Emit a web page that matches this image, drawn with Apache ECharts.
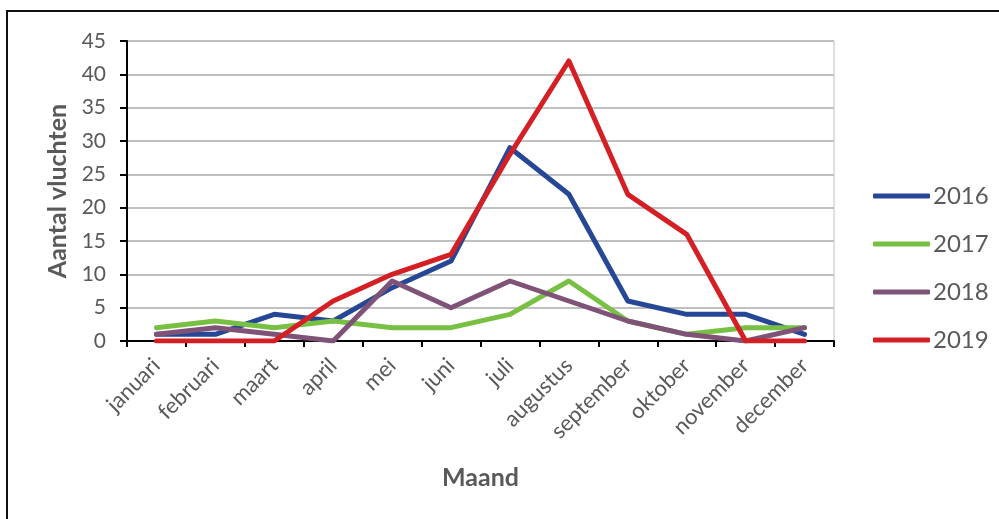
<!DOCTYPE html>
<html>
<head>
<meta charset="utf-8">
<script src="https://cdn.jsdelivr.net/npm/echarts@6/dist/echarts.min.js"></script>
<style>
  html, body { margin: 0; padding: 0; background: #fff; overflow: hidden; }
  #frame { position: absolute; left: 6px; top: 10px; width: 1010px; height: 530px; border: 2px solid #111; box-sizing: border-box; }
  #chart { position: absolute; left: 0; top: 0; width: 999px; height: 519px; }
</style>
</head>
<body>
<div id="frame"></div>
<div id="chart"></div>
<script>
// Maandelijkse aantallen vluchten per jaar
const months = ['januari', 'februari', 'maart', 'april', 'mei', 'juni', 'juli', 'augustus', 'september', 'oktober', 'november', 'december'];
const years = ['2016', '2017', '2018', '2019'];
const flights2016 = [1, 1, 4, 3, 8, 12, 29, 22, 6, 4, 4, 1];
const flights2017 = [2, 3, 2, 3, 2, 2, 4, 9, 3, 1, 2, 2];
const flights2018 = [1, 2, 1, 0, 9, 5, 9, 6, 3, 1, 0, 2];
const flights2019 = [0, 0, 0, 6, 10, 13, 28, 42, 22, 16, 0, 0];
const yTicks = { min: 0, max: 45, step: 5 };

const colors = ['#264796', '#77C043', '#7F5378', '#D41F24'];
const seriesData = [flights2016, flights2017, flights2018, flights2019];
const font = 'Lato, "Open Sans", sans-serif';

const chart = echarts.init(document.getElementById('chart'));
chart.setOption({
  animation: false,
  color: colors,
  grid: { left: 127, right: 165, top: 41, bottom: 178, show: true, borderColor: '#c0c0c0', borderWidth: 1 },
  legend: {
    orient: 'vertical',
    left: 873, top: 184,
    padding: 0,
    itemGap: 24, itemWidth: 57, itemHeight: 5,
    icon: 'roundRect',
    textStyle: { fontFamily: font, fontSize: 24, color: '#595959', padding: [0, 0, 0, -2] },
    data: years
  },
  xAxis: {
    type: 'category',
    data: months,
    boundaryGap: true,
    name: 'Maand',
    nameLocation: 'middle',
    nameGap: 124,
    nameTextStyle: { fontFamily: font, fontSize: 25, fontWeight: 'bold', color: '#595959' },
    axisLine: { lineStyle: { color: '#000', width: 2 } },
    axisTick: { show: true, alignWithLabel: false, length: 6, lineStyle: { color: '#000', width: 2 } },
    axisLabel: { rotate: 45, margin: 21, padding: [20, 0, 0, 0], fontFamily: font, fontSize: 22, color: '#595959' },
    splitLine: { show: false }
  },
  yAxis: {
    type: 'value',
    min: yTicks.min, max: yTicks.max, interval: yTicks.step,
    name: 'Aantal vluchten',
    nameLocation: 'middle',
    nameGap: 57,
    nameTextStyle: { fontFamily: font, fontSize: 25, fontWeight: 'bold', color: '#595959' },
    axisLine: { show: true, lineStyle: { color: '#000', width: 2 } },
    axisTick: { show: true, length: 7, lineStyle: { color: '#000', width: 2 } },
    axisLabel: { margin: 21, fontFamily: font, fontSize: 21, color: '#595959' },
    splitLine: { lineStyle: { color: '#c0c0c0', width: 2 } }
  },
  series: years.map((y, i) => ({
    name: y,
    type: 'line',
    data: seriesData[i],
    symbol: 'none',
    lineStyle: { width: 5, color: colors[i], cap: 'round', join: 'round' },
    itemStyle: { color: colors[i] }
  }))
});
</script>
</body>
</html>
